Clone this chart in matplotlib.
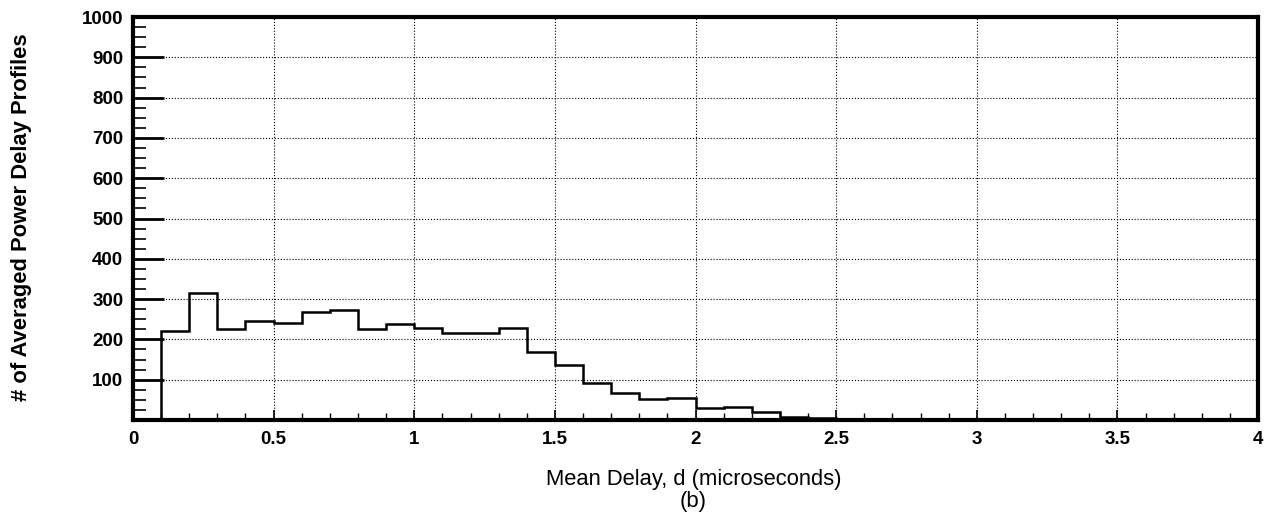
import numpy as np
import matplotlib
matplotlib.use('Agg')
from matplotlib import pyplot as plt
from matplotlib.ticker import MultipleLocator

#  histogram of mean delay, 0.1 us bins from 0 to 4 us
bin_edges = np.round(np.arange(0, 4.01, 0.1), 2)
counts = [0, 222, 316, 226, 246, 241, 268, 274, 225, 238,
          229, 215, 215, 228, 169, 137, 92, 66, 53, 54,
          30, 32, 19, 7, 6, 1, 1, 1, 0, 0,
          0, 0, 0, 0, 0, 0, 0, 0, 0, 0]

x_ticks = [0, 0.5, 1, 1.5, 2, 2.5, 3, 3.5, 4]
x_labels = ['0', '0.5', '1', '1.5', '2', '2.5', '3', '3.5', '4']
y_ticks = [100, 200, 300, 400, 500, 600, 700, 800, 900, 1000]

plt.rcParams['font.family'] = ['Liberation Sans', 'DejaVu Sans']

fig = plt.figure(figsize=(12.75, 5.22), dpi=100)
ax = fig.add_axes([0.1043, 0.1954, 0.8824, 0.772])

ax.stairs(counts, bin_edges, color='black', linewidth=1.8)

ax.set_xlim(0, 4)
ax.set_ylim(0, 1000)
ax.set_xticks(x_ticks)
ax.set_xticklabels(x_labels)
ax.set_yticks(y_ticks)
ax.xaxis.set_minor_locator(MultipleLocator(0.1))
ax.yaxis.set_minor_locator(MultipleLocator(25))

ax.grid(True, which='major', linestyle=':', color='black', linewidth=0.8)
for s in ax.spines.values():
    s.set_linewidth(3)

ax.tick_params(axis='y', which='major', direction='in', length=22, width=2,
               labelsize=13.5, pad=7)
ax.tick_params(axis='y', which='minor', direction='in', length=9, width=1.2)
ax.tick_params(axis='x', which='major', direction='in', length=7, width=1.2,
               labelsize=13.5, pad=8)
ax.tick_params(axis='x', which='minor', direction='in', length=5, width=1.0)
for lab in ax.get_xticklabels() + ax.get_yticklabels():
    lab.set_fontweight('bold')

fig.text(0.0165, 0.584, '# of Averaged Power Delay Profiles', rotation=90,
         ha='center', va='center', fontsize=15.8, fontweight='bold')
fig.text(0.544, 0.082, 'Mean Delay, d (microseconds)', ha='center',
         va='center', fontsize=15.8)
fig.text(0.544, 0.040, '(b)', ha='center', va='center', fontsize=15.8)

fig.savefig('out.png', dpi=100)
